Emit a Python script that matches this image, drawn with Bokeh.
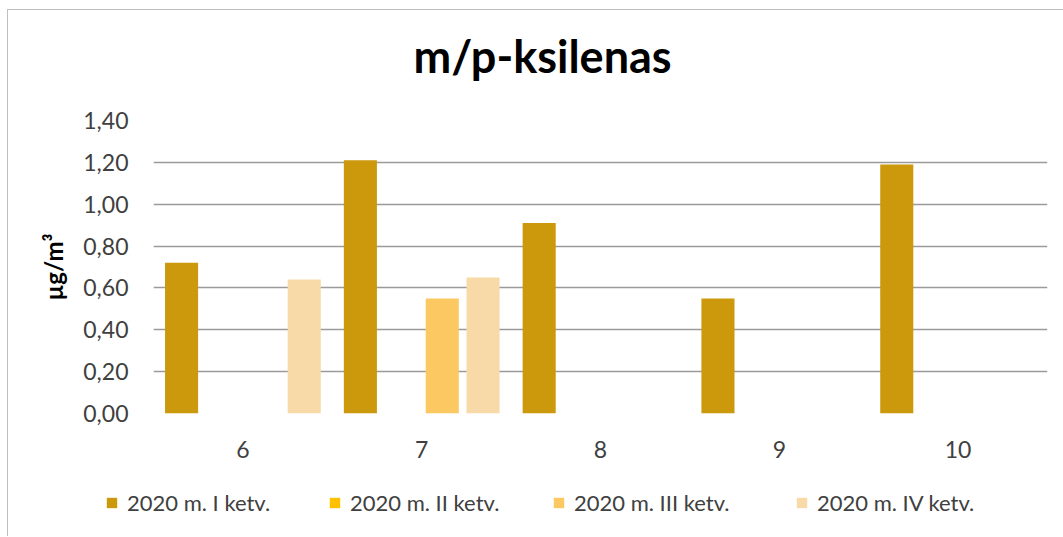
from bokeh.plotting import figure
from bokeh.models import (Range1d, FactorRange, FixedTicker, Legend, LegendItem)
from bokeh.layouts import column
from bokeh.transform import dodge
from bokeh.embed import file_html
from bokeh.resources import INLINE

# ---- data ----
chart_title = "m/p-ksilenas"
categories = ["6", "7", "8", "9", "10"]
series_names = ["2020 m. I ketv.", "2020 m. II ketv.", "2020 m. III ketv.", "2020 m. IV ketv."]
q1 = [0.72, 1.21, 0.91, 0.55, 1.19]
q2 = [0.0, 0.0, 0.0, 0.0, 0.0]
q3 = [0.0, 0.55, 0.0, 0.0, 0.0]
q4 = [0.64, 0.65, 0.0, 0.0, 0.0]
y_ticks = [0.0, 0.2, 0.4, 0.6, 0.8, 1.0, 1.2, 1.4]
y_tick_labels = ["0,00", "0,20", "0,40", "0,60", "0,80", "1,00", "1,20", "1,40"]

colors = ["#CC980C", "#FFC000", "#FCC862", "#F7DAA8"]
offsets = [-0.343, -0.115, 0.115, 0.343]
legend_x = [97, 320, 544, 787]
FONT = "Lato"

# ---- title strip ----
p0 = figure(width=1055, height=92, x_range=Range1d(0, 1), y_range=Range1d(0, 1),
            output_backend="svg", toolbar_location=None, min_border=0,
            min_border_left=0, min_border_right=0, min_border_top=0, min_border_bottom=0,
            x_axis_location=None, y_axis_location=None)
p0.frame_align = False
p0.outline_line_color = None
p0.xgrid.grid_line_color = None
p0.ygrid.grid_line_color = None
p0.title.text = chart_title
p0.title.text_font = FONT
p0.title.text_font_style = "bold"
p0.title.text_font_size = "45px"
p0.title.text_color = "#000000"
p0.title.align = "left"
p0.title.offset = 405
p0.title.standoff = 32

# ---- main chart ----
p = figure(width=1055, height=368, x_range=FactorRange(*categories, range_padding=0),
           y_range=Range1d(0, 1.4), output_backend="svg", toolbar_location=None,
           min_border_left=145, min_border_right=16, min_border_top=18, min_border_bottom=57)
p.frame_align = False
p.outline_line_color = None
p.background_fill_color = "white"
p.border_fill_color = "white"

data = dict(cat=categories, q1=q1, q2=q2, q3=q3, q4=q4)
for key, off, col in zip(["q1", "q2", "q3", "q4"], offsets, colors):
    p.vbar(x=dodge("cat", off, range=p.x_range), top=key, width=0.185, source=data,
           fill_color=col, line_color=None)

# grid
p.xgrid.grid_line_color = None
p.ygrid.ticker = FixedTicker(ticks=y_ticks)
p.ygrid.grid_line_color = "#9A9A9A"
p.ygrid.grid_line_width = 1.3

# y axis
p.yaxis.ticker = FixedTicker(ticks=y_ticks)
p.yaxis.major_label_overrides = {t: l for t, l in zip(y_ticks, y_tick_labels)}
p.yaxis.axis_line_color = None
p.yaxis.major_tick_line_color = None
p.yaxis.minor_tick_line_color = None
p.yaxis.major_label_standoff = 19
p.yaxis.major_label_text_font = FONT
p.yaxis.major_label_text_font_size = "23px"
p.yaxis.major_label_text_color = "#404040"
p.yaxis.axis_label = "µg/m³"
p.yaxis.axis_label_text_font = FONT
p.yaxis.axis_label_text_font_style = "bold"
p.yaxis.axis_label_text_font_size = "24px"
p.yaxis.axis_label_text_color = "#000000"
p.yaxis.axis_label_standoff = 12

# x axis
p.xaxis.axis_line_color = None
p.xaxis.major_tick_line_color = None
p.xaxis.minor_tick_line_color = None
p.xaxis.major_label_standoff = 21
p.xaxis.major_label_text_font = FONT
p.xaxis.major_label_text_font_size = "23px"
p.xaxis.major_label_text_color = "#404040"

# ---- legend strip ----
p2 = figure(width=1055, height=66, x_range=Range1d(0, 1055), y_range=Range1d(0, 66),
            output_backend="svg", toolbar_location=None, min_border=0,
            min_border_left=0, min_border_right=0, min_border_top=0, min_border_bottom=0,
            x_axis_location=None, y_axis_location=None)
p2.frame_align = False
p2.outline_line_color = None
p2.xgrid.grid_line_color = None
p2.ygrid.grid_line_color = None
for name, col, lx in zip(series_names, colors, legend_x):
    # zero-height proxy bar outside the visible range, used only as legend swatch
    r = p2.vbar(x=[-50], top=[0], width=1, fill_color=col, line_color=None)
    lg = Legend(items=[LegendItem(label=name, renderers=[r])], location=(lx, 20),
                glyph_width=13, glyph_height=13, label_standoff=9,
                padding=0, margin=0, border_line_color=None, background_fill_alpha=0,
                label_text_font=FONT, label_text_font_size="22px",
                label_text_color="#404040")
    p2.add_layout(lg, "center")

layout = column(p0, p, p2, spacing=0)
layout.styles = {"margin-left": "7px", "margin-top": "9px",
                 "border-left": "1px solid #BFBFBF", "border-top": "1px solid #BFBFBF"}

open("out.html", "w").write(file_html(layout, INLINE))
